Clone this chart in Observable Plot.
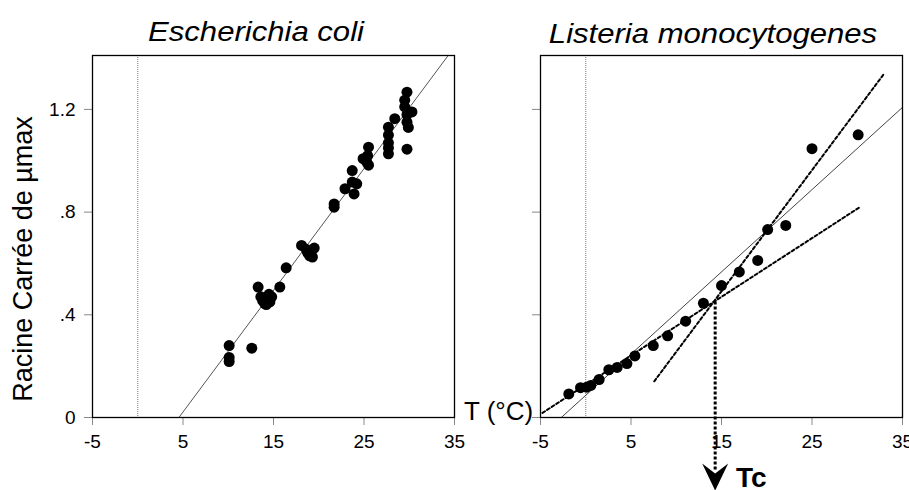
<!DOCTYPE html>
<html>
<head>
<meta charset="utf-8">
<script src="https://cdn.jsdelivr.net/npm/d3@7"></script>
<script src="https://cdn.jsdelivr.net/npm/@observablehq/plot@0.6"></script>
<style>
  body { margin: 0; background: white; }
  #chart { position: relative; width: 909px; height: 490px; overflow: hidden; background: white;
           font-family: "Liberation Sans", Arial, sans-serif; color: black; }
  #chart svg { position: absolute; top: 0; }
  .txt { position: absolute; white-space: nowrap; line-height: 1; }
  .title { font-size: 28px; font-style: italic; transform-origin: center; }
</style>
</head>
<body>
<div id="chart"></div>
<script>
// Square root of maximum growth rate vs temperature (Ratkowsky plots)

// Escherichia coli observations
const coliT = [10.1, 10.1, 10.1, 12.6, 13.3, 13.6, 13.8, 14.0, 14.3, 14.5, 14.8, 14.2, 14.6,
  15.7, 16.4, 18.1, 18.6, 19.0, 19.5, 19.3, 18.8, 21.7, 21.7, 22.9, 23.7, 23.7, 24.2, 23.9,
  24.9, 25.3, 25.5, 25.5, 25.4, 27.7, 27.7, 27.7, 27.7, 27.7, 28.4,
  29.75, 29.5, 29.5, 29.75, 29.75, 29.9, 30.3, 29.75];
const coliY = [0.28, 0.234, 0.218, 0.27, 0.508, 0.47, 0.455, 0.445, 0.46, 0.48, 0.47, 0.44, 0.45,
  0.508, 0.583, 0.67, 0.655, 0.63, 0.66, 0.625, 0.64, 0.832, 0.819, 0.891, 0.962, 0.917, 0.91, 0.871,
  1.008, 0.995, 1.053, 0.983, 1.02, 1.131, 1.10, 1.07, 1.05, 1.027, 1.164,
  1.267, 1.236, 1.21, 1.18, 1.15, 1.13, 1.19, 1.045];

// Listeria monocytogenes observations
const listT = [-1.87, -0.58, 0.09, 0.56, 1.48, 2.55, 3.47, 4.55, 5.43, 7.46, 9.05, 11.04,
  13.0, 15.0, 16.97, 19.0, 20.1, 22.1, 25.0, 30.1];
const listY = [0.092, 0.116, 0.118, 0.125, 0.148, 0.186, 0.195, 0.21, 0.24, 0.28, 0.318, 0.375,
  0.445, 0.514, 0.567, 0.612, 0.732, 0.748, 1.047, 1.101];

// fitted lines (end points)
const coliFitT = [4.55, 34.3], coliFitY = [0, 1.41];
const listFitT = [-2.7, 35], listFitY = [0, 1.208];
const coldFitT = [-4.78, 30.4], coldFitY = [0.018, 0.822];
const warmFitT = [7.57, 32.9], warmFitY = [0.141, 1.336];

// critical temperature where the two regimes meet
const Tc = 14.3, TcY = 0.45, arrowEndY = -0.21, arrowHeadY = -0.234;

// axes
const xTicks = [-5, 5, 15, 25, 35];
const xTickLabels = ["-5", "5", "15", "25", "35"];
const yTicks = [0, 0.4, 0.8, 1.2];
const yTickLabels = ["0", ".4", ".8", "1.2"];
const xDomain = [-5, 35], yDomain = [0, 1.41];

const pts = (T, Y) => T.map((t, i) => ({T: t, Y: Y[i]}));

// filled chevron arrow head, tip pointing down
const chevron = {
  draw(ctx) {
    ctx.moveTo(0, 13);
    ctx.lineTo(-13, -14);
    ctx.lineTo(0, -4);
    ctx.lineTo(13, -14);
    ctx.closePath();
  }
};

const common = {
  height: 490,
  marginTop: 55,
  marginBottom: 73,
  x: {domain: xDomain, label: null},
  y: {domain: yDomain, label: null},
  style: {background: "transparent", color: "black"}
};

const xAxis = () => Plot.axisX({ticks: xTicks, tickSize: 8, tickPadding: 9, stroke: "#888",
  fill: "black", tickFormat: (d) => xTickLabels[xTicks.indexOf(d)], label: null});

const left = Plot.plot({
  ...common,
  width: 470,
  marginLeft: 92,
  marginRight: 16,
  marks: [
    Plot.ruleX([0], {stroke: "#777", strokeWidth: 1, strokeDasharray: "1,1"}),
    xAxis(),
    Plot.axisY({ticks: yTicks, tickSize: 8, tickPadding: 9, stroke: "#888", fill: "black",
      tickFormat: (d) => yTickLabels[yTicks.indexOf(d)], label: null}),
    Plot.line(pts(coliFitT, coliFitY), {x: "T", y: "Y", stroke: "#555", strokeWidth: 1}),
    Plot.dot(pts(coliT, coliY), {x: "T", y: "Y", r: 5.5, fill: "black", stroke: "none"}),
    Plot.frame({stroke: "black", strokeWidth: 1.3})
  ]
});
left.style.left = "0px";

const right = Plot.plot({
  ...common,
  width: 439,
  marginLeft: 70,
  marginRight: 7,
  marks: [
    Plot.ruleX([0], {stroke: "#777", strokeWidth: 1, strokeDasharray: "1,1"}),
    xAxis(),
    Plot.axisY({ticks: yTicks, tickSize: 8, stroke: "#888", tickFormat: () => "", label: null}),
    Plot.line(pts(listFitT, listFitY), {x: "T", y: "Y", stroke: "#444", strokeWidth: 1}),
    Plot.line(pts(coldFitT, coldFitY), {x: "T", y: "Y", stroke: "black", strokeWidth: 2, strokeDasharray: "3,2.5"}),
    Plot.line(pts(warmFitT, warmFitY), {x: "T", y: "Y", stroke: "black", strokeWidth: 2, strokeDasharray: "3,2.5"}),
    Plot.dot(pts(listT, listY), {x: "T", y: "Y", r: 5.5, fill: "black", stroke: "none"}),
    Plot.ruleX([Tc], {y1: TcY, y2: arrowEndY, stroke: "black", strokeWidth: 3, strokeDasharray: "3,2"}),
    Plot.dot([Tc], {x: (d) => d, y: () => arrowHeadY, symbol: chevron, fill: "black", stroke: "none"}),
    Plot.frame({stroke: "black", strokeWidth: 1.3})
  ]
});
right.style.left = "470px";

// larger tick labels
for (const svg of [left, right]) {
  d3.select(svg).selectAll("text")
    .style("font-size", "19px")
    .style("font-family", "'Liberation Sans', Arial, sans-serif");
}

const chart = document.getElementById("chart");
chart.append(left, right);

function addText(text, css, cls = "txt") {
  const d = document.createElement("div");
  d.className = cls;
  d.textContent = text;
  Object.assign(d.style, css);
  chart.append(d);
}

addText("Escherichia coli", {left: "256px", top: "18px", transform: "translateX(-50%) scaleX(1.11)"}, "txt title");
addText("Listeria monocytogenes", {left: "713px", top: "19.5px", transform: "translateX(-50%) scaleX(1.11)"}, "txt title");
addText("Racine Carrée de µmax", {left: "23px", top: "259px", fontSize: "27px",
  transform: "translate(-50%, -50%) rotate(-90deg)"});
addText("T (°C)", {left: "464px", top: "398px", fontSize: "26px"});
addText("Tc", {left: "736px", top: "464px", fontSize: "28px", fontWeight: "bold"});
</script>
</body>
</html>
